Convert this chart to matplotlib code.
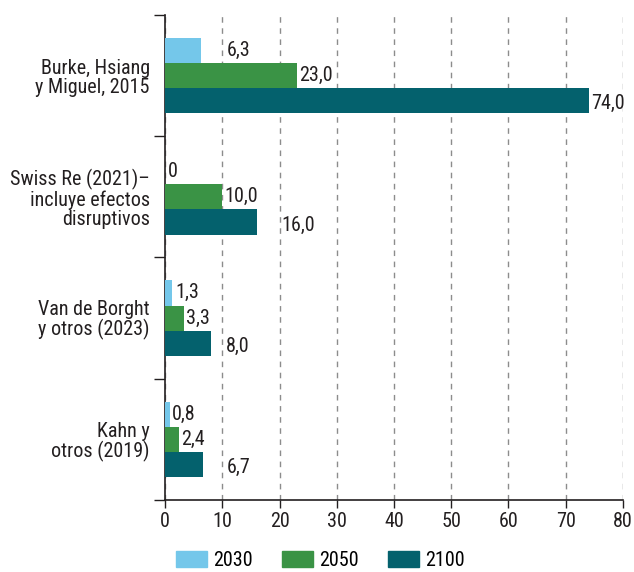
import matplotlib.pyplot as plt
import numpy as np
from matplotlib.patches import Patch

plt.rcParams['font.family'] = ['Roboto Condensed', 'DejaVu Sans']

categories = ['Burke, Hsiang\ny Miguel, 2015',
              'Swiss Re (2021)–\nincluye efectos\ndisruptivos',
              'Van de Borght\ny otros (2023)',
              'Kahn y\notros (2019)']
years = ['2030', '2050', '2100']
v2030 = [6.3, 0.0, 1.3, 0.8]
v2050 = [23.0, 10.0, 3.3, 2.4]
v2100 = [74.0, 16.0, 8.0, 6.7]
colors = ['#74C7EA', '#3A9345', '#04616D']

# some labels are pushed past the next gridline, as in the original
shift = {(0, 0): 4.0, (2, 1): 3.9, (2, 2): 2.1, (2, 3): 3.6}

fig = plt.figure(figsize=(6.34, 5.72), dpi=100)
ax = fig.add_axes([0.2603, 0.1259, 0.7223, 0.8479])

y = np.arange(len(categories))
h = 0.208
series = [v2030, v2050, v2100]
for i, (vals, c) in enumerate(zip(series, colors)):
    pos = y + (i - 1) * h
    ax.barh(pos, vals, height=h, color=c, zorder=3)
    for j, v in enumerate(vals):
        txt = '0' if v == 0 else f'{v:.1f}'.replace('.', ',')
        x = v + 0.45 + shift.get((i, j), 0)
        dy = 0.025 if i == 2 else 0
        ax.text(x, pos[j] + dy, txt, va='center', ha='left', fontsize=14.5,
                color='#231F20', zorder=4)

ax.set_xlim(0, 80)
ax.set_ylim(len(categories) - 0.5, -0.5)
ax.set_xticks(range(0, 81, 10))
ax.tick_params(axis='x', labelsize=14.5, length=6, width=1, color='#231F20',
               labelcolor='#231F20', direction='out', pad=3)
ax.set_yticks(y)
ax.set_yticklabels(categories, fontsize=14.5, linespacing=1.0, color='#231F20')
ax.tick_params(axis='y', which='major', length=0, pad=11)
ax.set_yticks(np.arange(len(categories) + 1) - 0.5, minor=True)
ax.tick_params(axis='y', which='minor', length=8, width=1, color='#231F20')

ax.grid(axis='x', linestyle=(0, (4, 4)), color='#8C8C8C', linewidth=1, zorder=0)
for s in ['top', 'right']:
    ax.spines[s].set_visible(False)
for s in ['left', 'bottom']:
    ax.spines[s].set_color('#231F20')
    ax.spines[s].set_linewidth(1.2)

handles = [Patch(color=c, label=yr) for c, yr in zip(colors, years)]
fig.legend(handles=handles, loc='lower left', bbox_to_anchor=(0.277, 0.003),
           ncol=3, frameon=False, fontsize=14.5, handlelength=1.55,
           handleheight=0.85, columnspacing=1.45, handletextpad=0.3,
           borderpad=0, borderaxespad=0)

fig.savefig('out.png', dpi=100)
